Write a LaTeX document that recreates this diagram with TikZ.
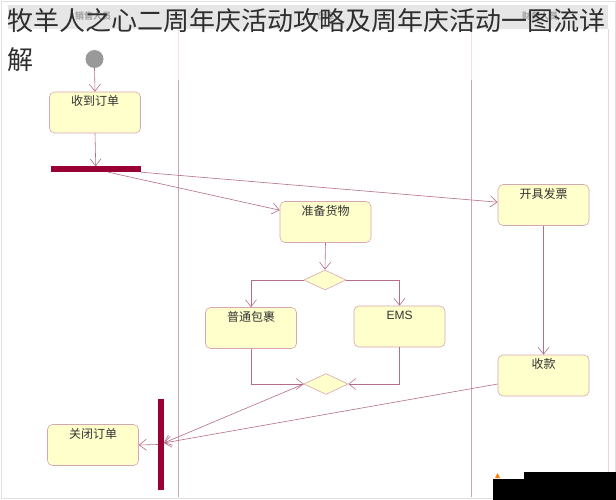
\documentclass[tikz,border=0pt]{standalone}
\usepackage{fontspec}
\setmainfont{Liberation Sans}
\newfontfamily\cjk{Noto Sans CJK SC}
\usetikzlibrary{shapes.geometric,arrows.meta,calc}
\definecolor{boxfill}{HTML}{FFFFCC}
\definecolor{boxline}{HTML}{D6A6B2}
\definecolor{flow}{HTML}{B46E8C}
\definecolor{lane}{HTML}{CDA3B6}
\definecolor{lanelight}{HTML}{F0DFE6}
\definecolor{barcol}{HTML}{990033}
\definecolor{band}{HTML}{E6E6E6}
\definecolor{titlecol}{HTML}{2E2E2E}
\tikzset{
  actbox/.style={draw=boxline, fill=boxfill, rounded corners=5pt, line width=0.6pt,
    minimum width=91pt, minimum height=41pt, inner xsep=0pt, inner ysep=1.5pt,
    text height=12pt, text depth=26pt, font=\cjk\fontsize{12}{12}\selectfont, text=black!80},
  decis/.style={diamond, draw=boxline, fill=boxfill, line width=0.6pt, inner sep=0pt},
  syncbar/.style={fill=barcol, draw=none, inner sep=0pt},
  flowline/.style={draw=flow, line width=0.6pt, -{Straight Barb[length=7pt,width=11pt]}},
  lanelabel/.style={font=\cjk\bfseries\fontsize{9}{9}\selectfont, text=black!35, inner sep=0pt},
  titletext/.style={font=\cjk\fontsize{26}{26}\selectfont, text=titlecol, inner sep=0pt, anchor=base west}
}
\begin{document}
\begin{tikzpicture}[x=1pt,y=-1pt]
\useasboundingbox (0,0) rectangle (616,500);
\fill[white] (0,0) rectangle (616,500);
% frame and header band
\draw[black!12, line width=0.6pt] (1,1) rectangle (615,498);
\fill[band] (8,5) rectangle (608,29);
\node[lanelabel] (l1) at (93,16) {销售人员};
\node[lanelabel] (l2) at (325,16) {仓库};
\node[lanelabel] (l3) at (540,16) {财务人员};
% lane lines
\draw[lanelight, line width=0.7pt] (178,29) -- (178,80) (471.5,29) -- (471.5,80);
\draw[lane, line width=0.7pt] (178,80) -- (178,497) (471.5,80) -- (471.5,497);
\draw[lanelight!80!lane, line width=0.7pt] (608,29) -- (608,472);
% nodes
\node[circle, fill=black!40, minimum size=18pt, inner sep=0pt] (start) at (94.5,59) {};
\node[actbox] (recv) at (95,112.5) {收到订单};
\node[syncbar, minimum width=90.5pt, minimum height=5.5pt] (fork) at (95.75,169.25) {};
\node[actbox] (prep) at (325.5,222) {准备货物};
\node[actbox] (invoice) at (543.5,205) {开具发票};
\node[decis, minimum width=42pt, minimum height=20pt] (d1) at (325,280) {};
\node[actbox] (normal) at (251,328) {普通包裹};
\node[actbox, font=\fontsize{12}{12}\selectfont] (ems) at (399.5,326.5) {EMS};
\node[decis, minimum width=44pt, minimum height=21pt] (d2) at (326,384) {};
\node[actbox] (pay) at (543.5,375.5) {收款};
\node[syncbar, minimum width=5.5pt, minimum height=91pt] (join) at (160.75,444.5) {};
\node[actbox] (close) at (93,445) {关闭订单};
% connectors
\draw[flowline] (start.south) -- (recv.north);
\draw[flowline] (recv.south) -- (fork.north);
\draw[flowline] ($(fork.south west)+(58,0)$) -- ($(prep.north west)+(0,9)$);
\draw[flowline] (fork.south east) -- ($(invoice.north west)+(0,18)$);
\draw[flowline] (prep.south) -- (d1.north);
\draw[flowline] (d1.west) -| (normal.north);
\draw[flowline] (d1.east) -| (ems.north);
\draw[flowline] (normal.south) |- (d2.west);
\draw[flowline] (ems.south) |- (d2.east);
\draw[flowline] (invoice.south) -- (pay.north);
\draw[flowline] (d2.west) -- ($(join.east)+(0,-1.5)$);
\draw[flowline] ($(pay.west)+(0,8.5)$) -- ($(join.east)+(0,-1.5)$);
\draw[flowline] (join.west) -- (close.east);
% title overlay
\node[titletext] (t1) at (7,31) {牧羊人之心二周年庆活动攻略及周年庆活动一图流详};
\node[titletext] (t2) at (7,70) {解};
% watermark block
\fill[black] (493,472) rectangle (616,500);
\fill[white] (493,472) rectangle (524,479);
\fill[orange] (495,478) -- (497.5,473) -- (500,478) -- cycle;
\end{tikzpicture}
\end{document}
